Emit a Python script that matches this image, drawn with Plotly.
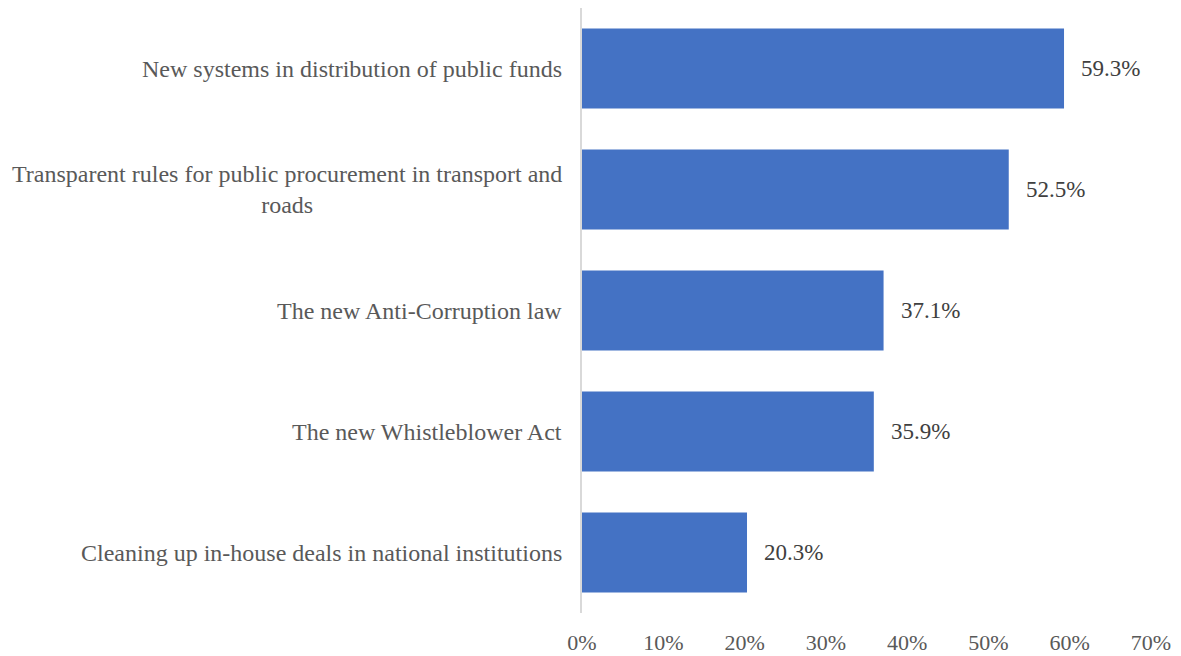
import plotly.graph_objects as go

categories = [
    "New systems in distribution of public funds",
    "Transparent rules for public procurement in transport and<br>roads",
    "The new Anti-Corruption law",
    "The new Whistleblower Act",
    "Cleaning up in-house deals in national institutions",
]
values = [59.3, 52.5, 37.1, 35.9, 20.3]
tick_vals = [0, 10, 20, 30, 40, 50, 60, 70]
tick_text = [f"{v}%" for v in tick_vals]

FONT = "Liberation Serif"
TEXT_COLOR = "#595959"
BAR_COLOR = "#4472C4"

fig = go.Figure()
fig.add_trace(go.Bar(
    x=values,
    y=categories,
    orientation="h",
    marker=dict(color=BAR_COLOR, line=dict(width=0)),
    width=0.66,
    hoverinfo="skip",
))

annotations = []
# category labels, centered multi-line text right-aligned to the axis
for cat in categories:
    annotations.append(dict(
        x=0, xref="paper", y=cat, yref="y",
        text=cat, showarrow=False,
        xanchor="right", yanchor="middle", align="center",
        xshift=-18,
        font=dict(family=FONT, size=24, color=TEXT_COLOR),
    ))
# value labels to the right of each bar
for cat, v in zip(categories, values):
    annotations.append(dict(
        x=v, xref="x", y=cat, yref="y",
        text=f"{v:.1f}%", showarrow=False,
        xanchor="left", yanchor="middle",
        xshift=15,
        font=dict(family=FONT, size=23, color="#404040"),
    ))

fig.update_layout(
    width=1181, height=656,
    margin=dict(l=582, r=30, t=8, b=43, autoexpand=False),
    paper_bgcolor="white", plot_bgcolor="white",
    showlegend=False,
    bargap=0.34,
    annotations=annotations,
    font=dict(family=FONT, size=22, color=TEXT_COLOR),
    xaxis=dict(
        range=[0, 70],
        tickvals=tick_vals, ticktext=tick_text,
        showgrid=False, zeroline=False, showline=False,
        ticks="", ticklabelstandoff=14, automargin=False,
        tickfont=dict(family=FONT, size=22, color=TEXT_COLOR),
        fixedrange=True,
    ),
    yaxis=dict(
        categoryorder="array", categoryarray=categories[::-1],
        showticklabels=False, showgrid=False, zeroline=False,
        showline=True, linecolor="#D9D9D9", linewidth=2,
        automargin=False, fixedrange=True,
    ),
)

fig.write_html("out.html")
